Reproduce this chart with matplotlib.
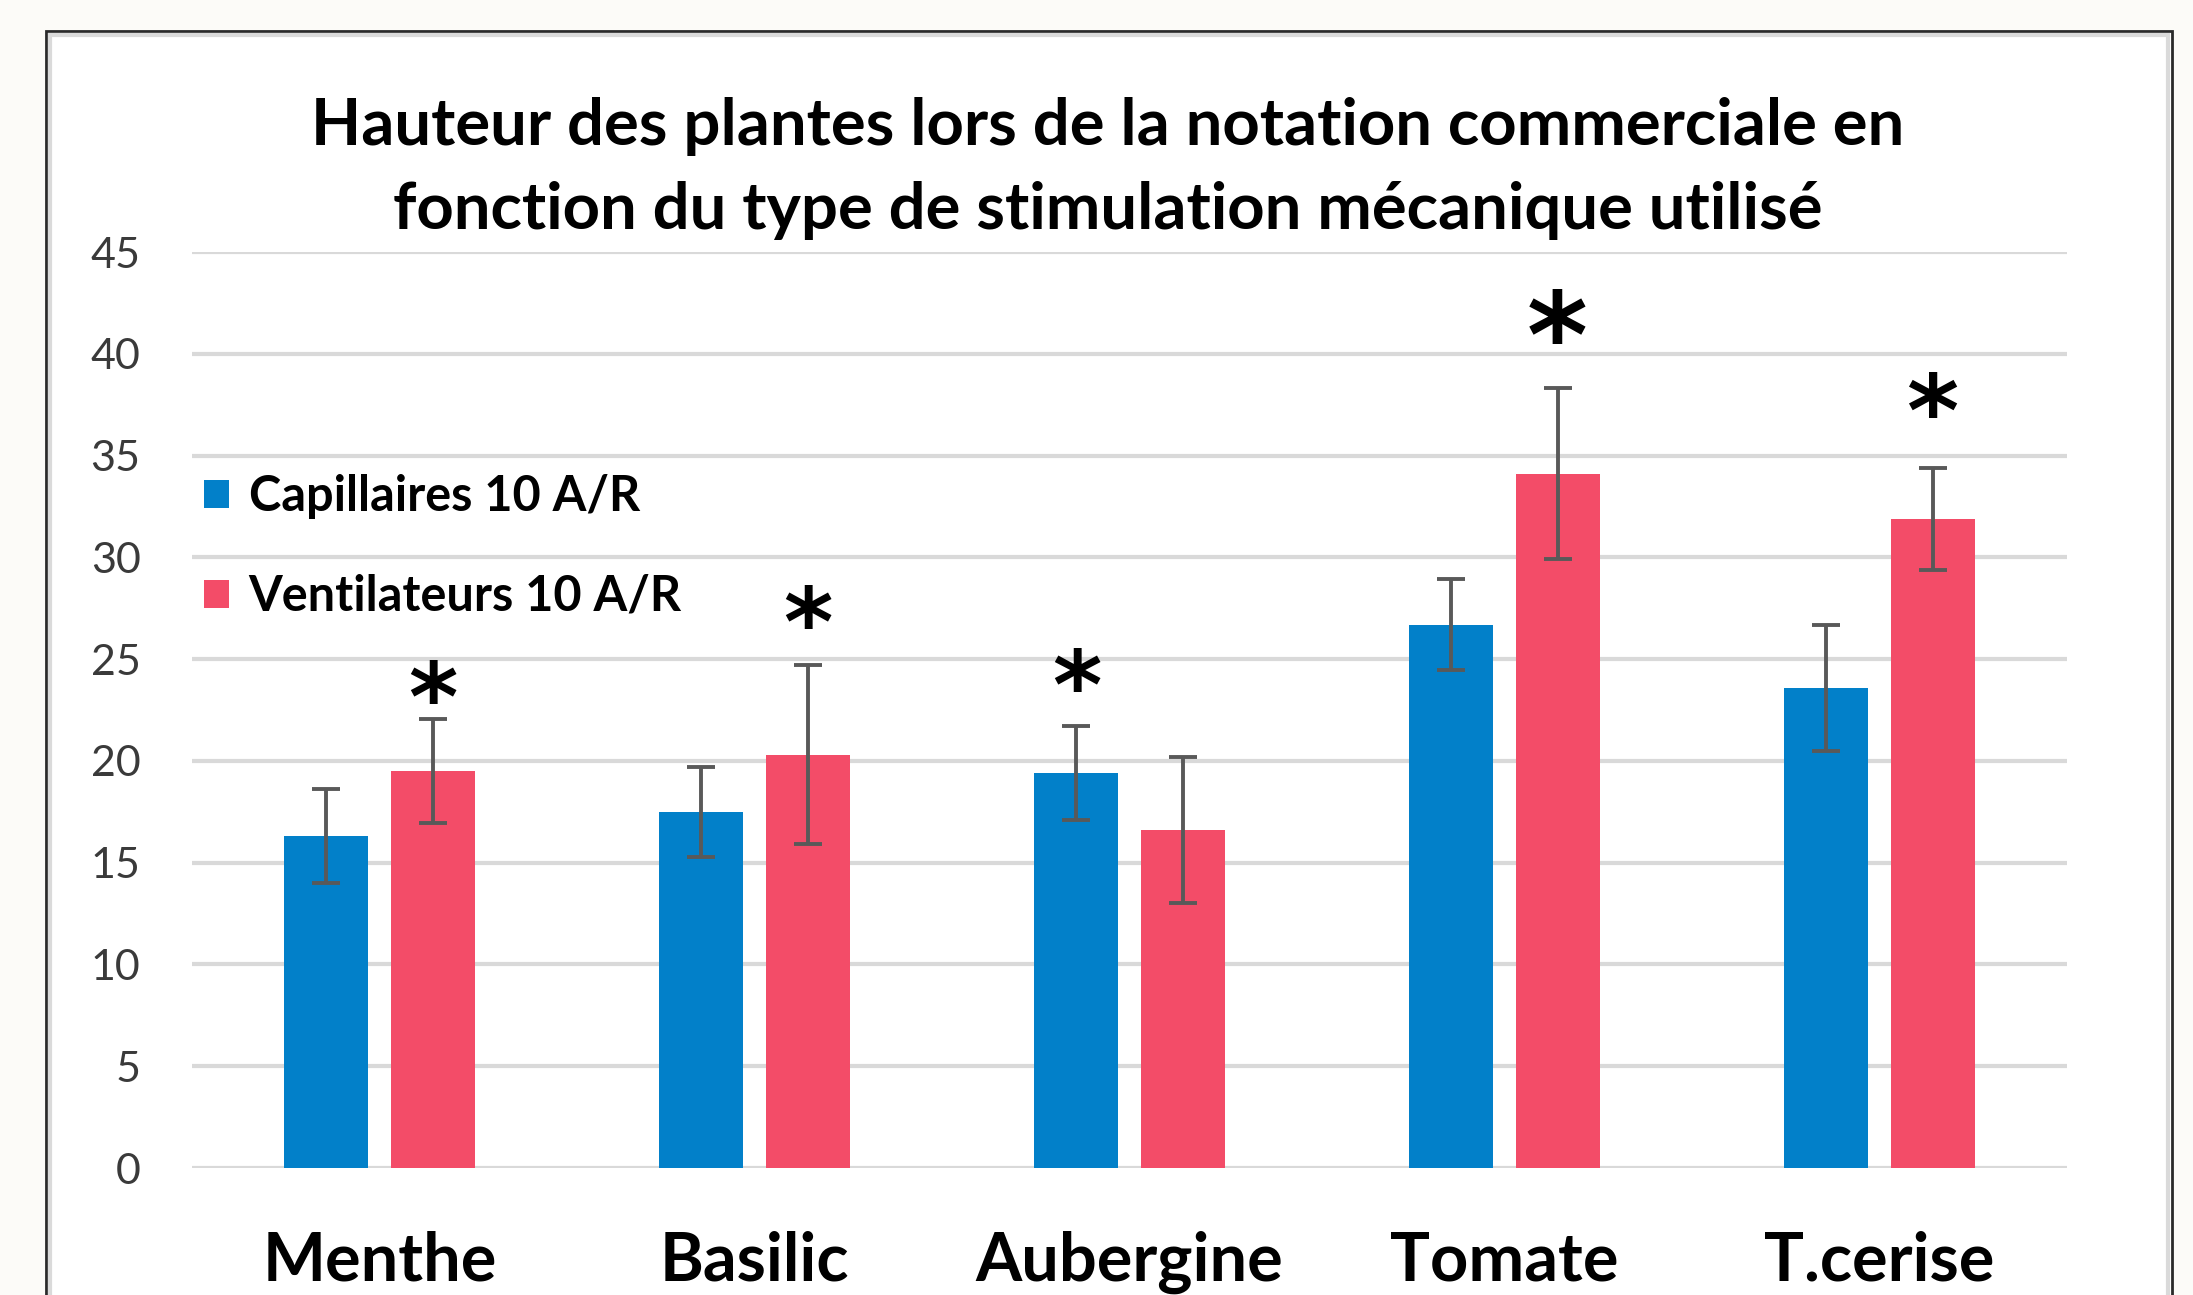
import matplotlib
matplotlib.use("Agg")
import matplotlib.pyplot as plt
import numpy as np
from matplotlib.patches import Rectangle

# ---- data ----
categories = ["Menthe", "Basilic", "Aubergine", "Tomate", "T.cerise"]
series_names = ["Capillaires 10 A/R", "Ventilateurs 10 A/R"]
capillaires = [16.3, 17.5, 19.4, 26.7, 23.6]
capillaires_err = [2.3, 2.2, 2.3, 2.25, 3.1]
ventilateurs = [19.5, 20.3, 16.6, 34.1, 31.9]
ventilateurs_err = [2.55, 4.4, 3.6, 4.2, 2.5]
# significance stars: category index, series index, star height (centre)
stars_cat = [0, 1, 2, 3, 4]
stars_series = [1, 1, 0, 1, 1]
stars_height = [23.8, 27.5, 24.4, 41.7, 37.9]
stars_size = [68, 68, 68, 84, 72]
yticks = [0, 5, 10, 15, 20, 25, 30, 35, 40, 45]
title_lines = ["Hauteur des plantes lors de la notation commerciale en",
               "fonction du type de stimulation mécanique utilisé"]

blue = "#0280C9"
red = "#F34C68"
err_color = "#595959"
grid_color = "#D9D9D9"

plt.rcParams["font.family"] = ["Lato", "DejaVu Sans"]

W, H = 2193, 1295
fig = plt.figure(figsize=(W / 100, H / 100), dpi=100)
fig.patch.set_facecolor("#FCFBF8")

# chart box
box = Rectangle((46 / W, -0.05), (2172 - 46) / W, 1.05 - 31 / H, transform=fig.transFigure,
                facecolor="white", edgecolor="#2a2a2a", linewidth=2.0, zorder=0)
fig.add_artist(box)
inner = Rectangle((50 / W, -0.05), (2168 - 50) / W, 1.05 - 35 / H, transform=fig.transFigure,
                  facecolor="none", edgecolor="#DADADA", linewidth=3.0, zorder=0.5)
fig.add_artist(inner)

ax = fig.add_axes([192 / W, 1 - 1168 / H, (2067 - 192) / W, (1168 - 252) / H])
ax.set_facecolor("none")

x = np.arange(len(categories))
bw = 0.224
off = 0.1417
ekw = dict(ecolor=err_color, elinewidth=2.8, capthick=2.8, capsize=10, zorder=4)
b1 = ax.bar(x - off, capillaires, width=bw, color=blue, yerr=capillaires_err,
            error_kw=ekw, zorder=3, label=series_names[0])
b2 = ax.bar(x + off, ventilateurs, width=bw, color=red, yerr=ventilateurs_err,
            error_kw=ekw, zorder=3, label=series_names[1])

for ci, si, hgt, fs in zip(stars_cat, stars_series, stars_height, stars_size):
    xs = ci + (off if si == 1 else -off)
    ax.annotate("*", xy=(xs, hgt), xytext=(0, -0.22 * fs), textcoords="offset points",
                ha="center", va="center", fontsize=fs, fontweight="bold",
                color="black", family="DejaVu Sans", zorder=5)

ax.set_xlim(-0.5, len(categories) - 0.5)
ax.set_ylim(0, 45)
ax.set_yticks(yticks)
ax.set_yticklabels([str(t) for t in yticks], fontsize=31, color="#3A3A3A")
ax.set_xticks(x)
ax.set_xticklabels(categories, fontsize=48, fontweight="bold", color="black")
ax.tick_params(axis="y", length=0, pad=37)
ax.tick_params(axis="x", length=0, pad=45)
ax.yaxis.grid(True, color=grid_color, linewidth=3.0, zorder=0)
ax.set_axisbelow(True)
for s in ax.spines.values():
    s.set_visible(False)

leg = ax.legend(handles=[b1, b2], loc="upper left",
                bbox_to_anchor=(204 / W, 1 - 474 / H), bbox_transform=fig.transFigure,
                frameon=False, prop=dict(family="Lato", weight="bold", size=35),
                handlelength=0.52, handleheight=0.52, handletextpad=0.4,
                labelspacing=1.13, borderpad=0, borderaxespad=0)

fig.text(1108 / W, 1 - 126 / H, title_lines[0], ha="center", va="center",
         fontsize=47, fontweight="bold", color="black")
fig.text(1108 / W, 1 - 210 / H, title_lines[1], ha="center", va="center",
         fontsize=47, fontweight="bold", color="black")

fig.savefig("out.png", dpi=100, facecolor=fig.get_facecolor())
